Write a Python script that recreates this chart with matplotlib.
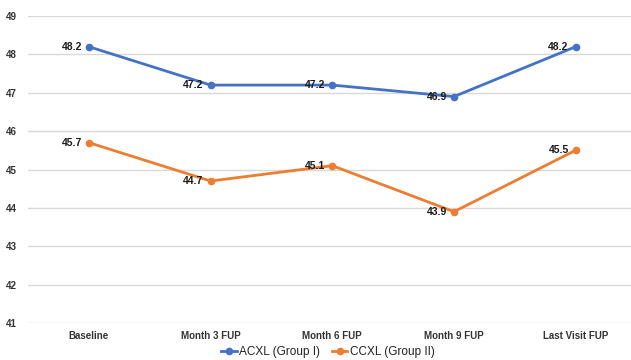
import matplotlib
matplotlib.use("Agg")
import matplotlib.pyplot as plt

categories = ["Baseline", "Month 3 FUP", "Month 6 FUP", "Month 9 FUP", "Last Visit FUP"]
acxl = [48.2, 47.2, 47.2, 46.9, 48.2]
ccxl = [45.7, 44.7, 45.1, 43.9, 45.5]
series_names = ["ACXL (Group I)", "CCXL (Group II)"]
yticks = [41, 42, 43, 44, 45, 46, 47, 48, 49]

plt.rcParams['font.family'] = ['Liberation Sans', 'DejaVu Sans']

fig = plt.figure(figsize=(6.31, 3.6), dpi=100)
ax = fig.add_axes([28/631, 37/360, 608.5/631, 307/360])

x = list(range(len(categories)))
blue = "#4472C4"
orange = "#ED7D31"
ax.plot(x, acxl, color=blue, lw=2, marker='o', ms=4.5, label=series_names[0], zorder=3)
ax.plot(x, ccxl, color=orange, lw=2, marker='o', ms=4.5, label=series_names[1], zorder=3)

for xi, v in zip(x, acxl):
    ax.annotate(f"{v}", (xi, v), xytext=(-5, 0), textcoords='offset points',
                ha='right', va='center', fontsize=7.5, fontweight='bold', color='#1a1a1a')
for xi, v in zip(x, ccxl):
    ax.annotate(f"{v}", (xi, v), xytext=(-5, 0), textcoords='offset points',
                ha='right', va='center', fontsize=7.5, fontweight='bold', color='#1a1a1a')

ax.set_xlim(-0.5, len(categories) - 0.5)
ax.set_ylim(41, 49)
ax.set_yticks(yticks)
ax.set_yticklabels([str(t) for t in yticks], fontsize=7, fontweight='bold', color='#333333')
ax.set_xticks(x)
ax.set_xticklabels(categories, fontsize=7, fontweight='bold', color='#333333')
ax.tick_params(axis='both', length=0)
ax.tick_params(axis='y', pad=8)
ax.tick_params(axis='x', pad=6)
ax.grid(axis='y', color='#d9d9d9', lw=1)
ax.set_axisbelow(True)
for s in ax.spines.values():
    s.set_visible(False)

leg = fig.legend(loc='center', bbox_to_anchor=(328/631, 1 - 352/360), ncol=2, frameon=False,
                 handlelength=1.3, handletextpad=0.2, columnspacing=1.0,
                 prop={'size': 8.5})
for t in leg.get_texts():
    t.set_color('#222222')

fig.savefig("out.png", dpi=100)
